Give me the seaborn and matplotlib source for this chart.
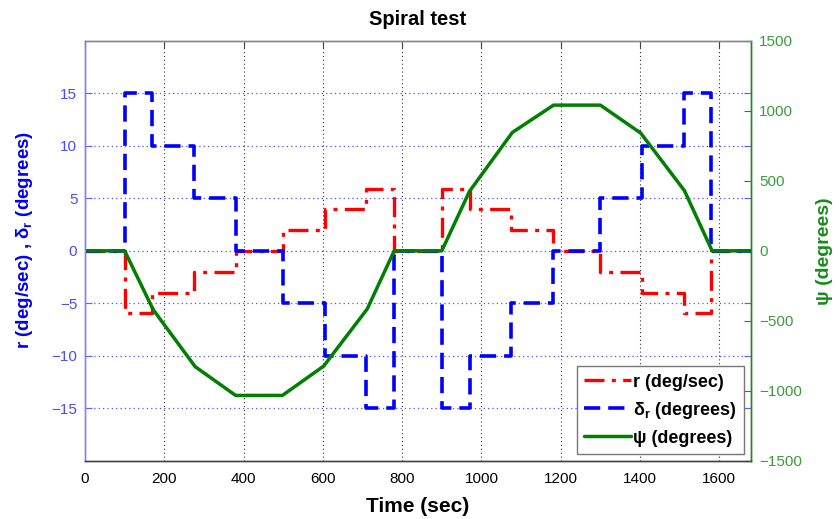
import numpy as np
import pandas as pd
import matplotlib
matplotlib.use("Agg")
import matplotlib.pyplot as plt
import seaborn as sns

# Spiral manoeuvre: rudder steps, resulting yaw rate and heading
t_steps = [0, 100, 170, 275, 380, 500, 605, 710, 780, 900, 970, 1075, 1180, 1300, 1405, 1510, 1580, 1680]
delta_r = [0, 15, 10, 5, 0, -5, -10, -15, 0, -15, -10, -5, 0, 5, 10, 15, 0, 0]
r_rate = [0, -5.9, -4, -2, 0, 2, 4, 5.9, 0, 5.9, 4, 2, 0, -2, -4, -5.9, 0, 0]

t_psi = [0, 100, 172, 278, 380, 498, 602, 712, 780, 900, 970, 1078, 1182, 1300, 1402, 1512, 1582, 1680]
psi = [0, 0, -420, -827, -1032, -1032, -823, -415, 0, 0, 425, 845, 1040, 1040, 840, 430, 0, 0]

x_ticks = [0, 200, 400, 600, 800, 1000, 1200, 1400, 1600]
left_ticks = [-15, -10, -5, 0, 5, 10, 15]
right_ticks = [-1500, -1000, -500, 0, 500, 1000, 1500]

steps = pd.DataFrame({"t": t_steps, "delta_r": delta_r, "r": r_rate})
heading = pd.DataFrame({"t": t_psi, "psi": psi})

sns.set_style("white")
plt.rcParams["font.family"] = ["Liberation Sans", "DejaVu Sans"]
plt.rcParams["mathtext.default"] = "regular"
plt.rcParams["text.color"] = "black"

fig = plt.figure(figsize=(8.39, 5.19), dpi=100)
ax = fig.add_axes([0.1013, 0.1118, 0.7938, 0.8098])
ax2 = ax.twinx()

red, blue, green = "#ff0000", "#0000ff", "#007f00"

sns.lineplot(data=steps, x="t", y="r", ax=ax, color=red, lw=2.4,
             drawstyle="steps-post", estimator=None, sort=False,
             linestyle=(0, (6, 2.2, 1.2, 2.2)), legend=False)
sns.lineplot(data=steps, x="t", y="delta_r", ax=ax, color=blue, lw=2.6,
             drawstyle="steps-post", estimator=None, sort=False,
             linestyle=(0, (4.5, 2.2)), legend=False)
sns.lineplot(data=heading, x="t", y="psi", ax=ax2, color=green, lw=2.5,
             estimator=None, sort=False, legend=False)

ax.set_xlim(0, 1680)
ax.set_ylim(-20, 20)
ax2.set_ylim(-1500, 1500)
ax.set_xticks(x_ticks)
ax.set_yticks(left_ticks)
ax2.set_yticks(right_ticks)

# grid: dotted black verticals, dotted blue horizontals
ax.grid(False)
ax2.grid(False)
for xv in x_ticks[1:]:
    ax.axvline(xv, color="#333333", lw=0.8, ls=(0, (1, 2.5)), zorder=0)
for yv in left_ticks:
    ax.axhline(yv, color="#5050ff", lw=0.9, ls=(0, (1, 2.5)), zorder=0)

# spines
for a in (ax, ax2):
    a.spines["top"].set_color("#888888")
    a.spines["bottom"].set_color("#444444")
    a.spines["left"].set_color("#8080ff")
    a.spines["right"].set_color("#1a8c1a")
    for s in a.spines.values():
        s.set_linewidth(1.0)

ax.tick_params(axis="x", direction="in", length=5, top=True, colors="#444444",
               labelcolor="black", labelsize=11, pad=8)
ax.tick_params(axis="y", direction="in", length=5, right=True, colors="#6060ff",
               labelcolor="#4a4aff", labelsize=11, pad=5.5)
ax2.tick_params(axis="y", direction="in", length=5, colors="#1a8c1a",
                labelcolor="#3c9c3c", labelsize=11, pad=6)

ax.set_title("Spiral test", fontsize=14.5, fontweight="bold", color="black", pad=11.5)
ax.set_xlabel("Time (sec)", fontsize=15, fontweight="bold", color="black", labelpad=8)
ax.set_ylabel(r"r (deg/sec) , $\delta_r$ (degrees)", fontsize=13.5,
              fontweight="bold", color="#0000ee")
ax.yaxis.set_label_coords(-0.075, 0.526)
ax2.set_ylabel("ψ (degrees)", fontsize=14, fontweight="bold",
               color="#1a8c1a", labelpad=10)

handles = [ax.lines[0], ax.lines[1], ax2.lines[0]]
labels = ["r (deg/sec)", r"$\delta_r$ (degrees)", "ψ (degrees)"]
leg = ax2.legend(handles, labels, loc="lower right",
                 bbox_to_anchor=(0.9895, 0.017), borderaxespad=0,
                 prop={"size": 13, "weight": "bold"}, handlelength=2.6,
                 handletextpad=0.1, labelspacing=0.5, borderpad=0.4,
                 frameon=True, fancybox=False, framealpha=1, edgecolor="#777777")
leg.get_frame().set_linewidth(1.0)
for txt in leg.get_texts():
    txt.set_color("black")

fig.savefig("out.png", dpi=100)
